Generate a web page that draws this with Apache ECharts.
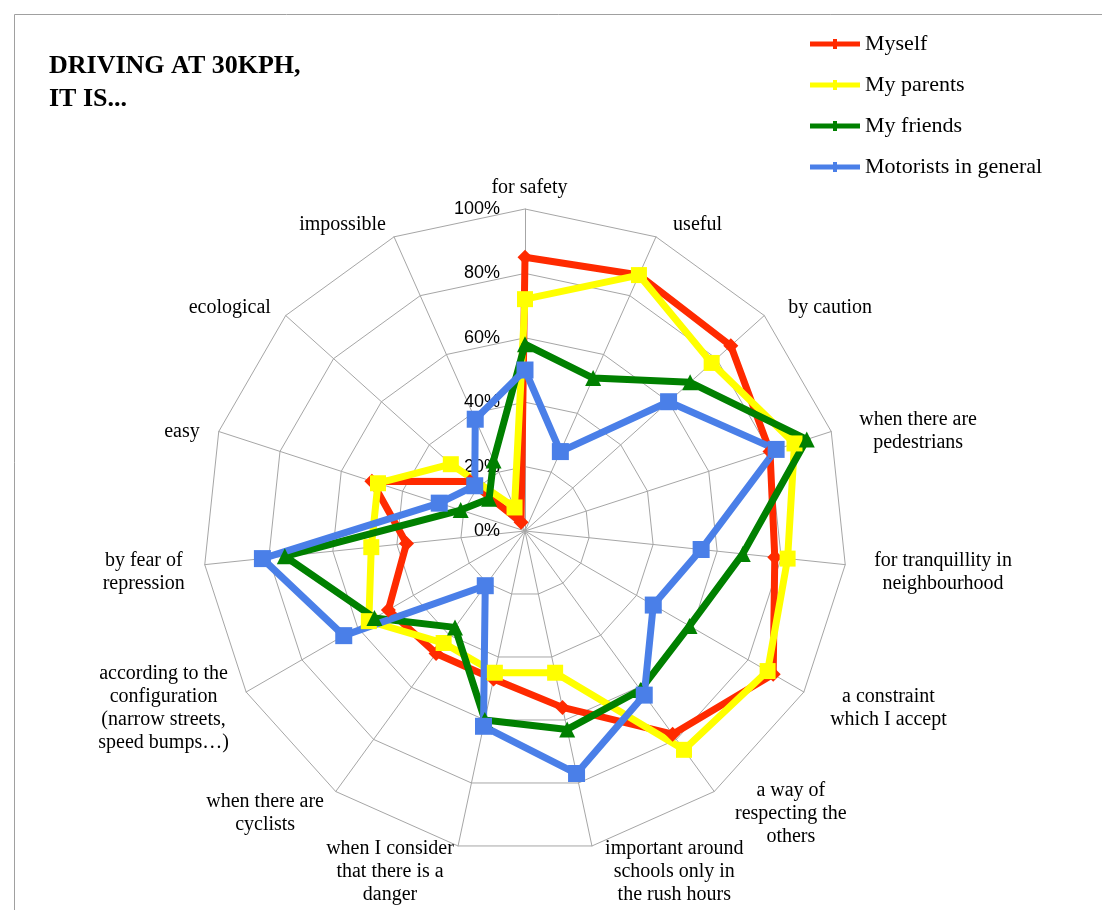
<!DOCTYPE html>
<html>
<head>
<meta charset="utf-8">
<script src="https://cdn.jsdelivr.net/npm/echarts@6/dist/echarts.min.js"></script>
<style>
html,body{margin:0;padding:0;background:#fff;}
#chart{width:1102px;height:910px;}
</style>
</head>
<body>
<div id="chart"></div>
<script>
// ---- data (clockwise from the top) ----
const indicators = [
  'for safety',
  'useful',
  'by caution',
  'when there are\npedestrians',
  'for tranquillity in\nneighbourhood',
  'a constraint\nwhich I accept',
  'a way of\nrespecting the\nothers',
  'important around\nschools only in\nthe rush hours',
  'when I consider\nthat there is a\ndanger',
  'when there are\ncyclists',
  'according to the\nconfiguration\n(narrow streets,\nspeed bumps…)',
  'by fear of\nrepression',
  'easy',
  'ecological',
  'impossible'
];
const seriesNames = ['Myself', 'My parents', 'My friends', 'Motorists in general'];
const myself    = [85, 87, 86, 80, 78, 89, 78, 56, 47, 47, 49, 37, 50, 23, 3];
const parents   = [72, 87, 78, 88, 82, 87, 84, 45, 45, 43, 56, 48, 48, 31, 8];
const friends   = [58, 52, 69, 92, 68, 59, 61, 63, 60, 37, 54, 75, 21, 15, 24];
const motorists = [50, 27, 60, 82, 55, 46, 63, 77, 62, 21, 65, 82, 28, 21, 38];
const tickLabels = ['0%', '20%', '40%', '60%', '80%', '100%'];

const colors = ['#ff2a00', '#ffff00', '#008000', '#4a7fe8'];
const symbols = ['diamond', 'rect', 'triangle', 'rect'];
const symbolSizes = [15, 16, 16, 17];
const allValues = [myself, parents, friends, motorists];

// ECharts lays radar indicators counter-clockwise; reorder so they read clockwise.
const order = [0];
for (let k = indicators.length - 1; k >= 1; k--) order.push(k);

const serif = '"Liberation Serif", "DejaVu Serif", serif';
const chart = echarts.init(document.getElementById('chart'), null, {renderer: 'canvas'});

const indicatorOpts = order.map(function (idx, pos) {
  const o = {name: indicators[idx], min: 0, max: 100};
  if (pos === 0) {
    o.nameGap = 10;
    o.axisLabel = {
      show: true,
      formatter: function (v) { return tickLabels[Math.round(v / 20)]; },
      color: '#000',
      fontFamily: 'Arial, "Liberation Sans", sans-serif',
      fontSize: 18,
      margin: 25
    };
  }
  return o;
});

const option = {
  backgroundColor: '#fff',
  animation: false,
  title: {
    text: 'DRIVING AT 30KPH,\nIT IS...',
    left: 44,
    top: 45,
    textStyle: {
      fontFamily: serif,
      fontWeight: 'bold',
      fontSize: 26,
      lineHeight: 33,
      color: '#000'
    }
  },
  legend: {
    orient: 'vertical',
    left: 805,
    top: 28,
    itemWidth: 50,
    itemHeight: 10,
    itemGap: 19,
    textStyle: {
      fontFamily: serif,
      fontSize: 22,
      lineHeight: 22,
      color: '#000'
    },
    data: seriesNames.map(function (n) {
      return {name: n, icon: 'path://M0,2.5 L50,2.5 L50,7.5 L0,7.5 Z M23,0 L27,0 L27,10 L23,10 Z'};
    })
  },
  radar: {
    center: [525, 531],
    radius: 322,
    startAngle: 90,
    shape: 'polygon',
    splitNumber: 5,
    nameGap: 20,
    axisName: {
      color: '#000',
      fontFamily: serif,
      fontSize: 20,
      lineHeight: 23,
      padding: [12, 0, 0, 9],
      formatter: function (value) {
        return value.split('\n').map(function (l) { return '{c|' + l + '}'; }).join('\n');
      },
      rich: {
        c: {
          align: 'center',
          fontFamily: serif,
          fontSize: 20,
          lineHeight: 23,
          color: '#000'
        }
      }
    },
    axisLine: {lineStyle: {color: '#a6a6a6', width: 1}},
    splitLine: {lineStyle: {color: '#a6a6a6', width: 1}},
    splitArea: {show: false},
    axisTick: {show: false},
    axisLabel: {show: false},
    indicator: indicatorOpts
  },
  series: [{
    type: 'radar',
    data: seriesNames.map(function (n, i) {
      return {
        name: n,
        value: order.map(function (idx) { return allValues[i][idx]; }),
        symbol: symbols[i],
        symbolSize: symbolSizes[i],
        lineStyle: {color: colors[i], width: 7},
        itemStyle: {color: colors[i]}
      };
    })
  }],
  graphic: [{
    type: 'rect',
    left: 12,
    top: 12,
    shape: {width: 1200, height: 1000},
    style: {fill: null, stroke: '#a0a0a0', lineWidth: 1},
    silent: true,
    z: -1
  }]
};
chart.setOption(option);
</script>
</body>
</html>
